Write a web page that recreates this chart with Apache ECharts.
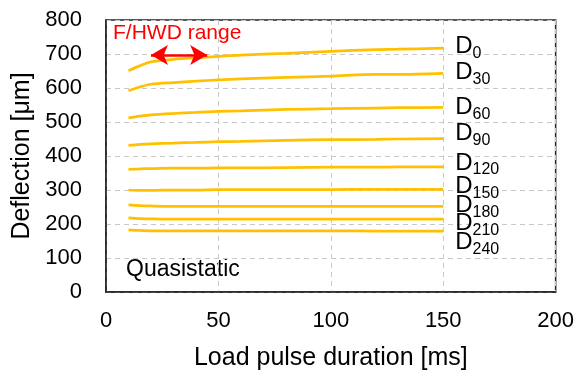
<!DOCTYPE html>
<html>
<head>
<meta charset="utf-8">
<script src="https://cdn.jsdelivr.net/npm/echarts@6/dist/echarts.min.js"></script>
<style>html,body{margin:0;padding:0;background:#fff}#c{width:577px;height:376px}</style>
</head>
<body>
<div id="c"></div>
<script>
// Load pulse durations [ms]
const durations = [10, 15, 20, 30, 40, 50, 60, 80, 100, 120, 130, 150];
// Deflections [μm] per sensor
const D0   = [651, 665, 677, 684, 689, 693, 697, 702, 708, 713, 714, 717];
const D30  = [592, 603, 611, 616, 620, 624, 627, 631, 635, 640, 640, 643];
const D60  = [512, 517, 521, 525, 528, 531, 533, 537, 539, 541, 542, 543];
const D90  = [431, 434, 436, 438, 440, 442, 443, 446, 448, 449, 450, 451];
const D120 = [361, 362, 363, 364, 364, 365, 365, 366, 367, 367, 368, 368];
const D150 = [300, 299, 299, 300, 300, 301, 301, 301, 301, 302, 302, 302];
const D180 = [256, 254, 253, 252, 252, 252, 252, 252, 252, 252, 252, 252];
const D210 = [218, 216, 215, 214, 214, 214, 214, 214, 214, 214, 214, 214];
const D240 = [183, 181, 180, 180, 180, 180, 180, 180, 180, 179, 179, 179];
const seriesNames = ['0', '30', '60', '90', '120', '150', '180', '210', '240'];
const seriesValues = [D0, D30, D60, D90, D120, D150, D180, D210, D240];
// F/HWD range arrow [ms] and level [μm]
const fhwdRange = [20, 45];
const fhwdLevel = 697;
// Axis ticks
const xTicks = [0, 50, 100, 150, 200];
const yTicks = [0, 100, 200, 300, 400, 500, 600, 700, 800];

const FONT = 'Liberation Sans, Arial, sans-serif';
const labelDy = [-2, -1, 0, -5.5, -4, -2.5, -1, 4, 11];

const series = seriesValues.map((vals, i) => ({
  type: 'line',
  name: 'D' + seriesNames[i],
  data: durations.map((d, k) => [d, vals[k]]),
  smooth: 0.3,
  showSymbol: false,
  symbol: 'none',
  lineStyle: { color: '#FFC000', width: 2.75 },
  silent: true,
  animation: false,
  endLabel: {
    show: true,
    distance: 0,
    offset: [12, labelDy[i]],
    formatter: () => '{d|D}{s|' + seriesNames[i] + '}',
    rich: {
      d: { fontSize: 24, lineHeight: 24, color: '#000', fontFamily: FONT },
      s: { fontSize: 16, lineHeight: 16, padding: [14, 0, 0, 0], color: '#000', fontFamily: FONT }
    }
  }
}));

series.push({
  type: 'line',
  data: [],
  animation: false,
  markLine: {
    silent: true,
    symbol: ['arrow', 'arrow'],
    symbolSize: [15, 17],
    label: { show: false },
    lineStyle: { color: '#FF0000', width: 2.5, type: 'solid' },
    data: [[{ coord: [fhwdRange[0], fhwdLevel] }, { coord: [fhwdRange[1], fhwdLevel] }]]
  }
});

const chart = echarts.init(document.getElementById('c'), null, { renderer: 'canvas' });
chart.setOption({
  animation: false,
  textStyle: { fontFamily: FONT },
  grid: { left: 106, top: 20, width: 450, height: 274, show: true, borderColor: '#222', borderWidth: 1.5, backgroundColor: 'transparent' },
  xAxis: {
    type: 'value', min: xTicks[0], max: xTicks[xTicks.length - 1], interval: 50,
    name: 'Load pulse duration [ms]', nameLocation: 'middle', nameGap: 54,
    nameTextStyle: { fontSize: 25, color: '#000', fontFamily: FONT },
    axisLine: { show: true, lineStyle: { color: '#222', width: 1.5 } },
    axisTick: { show: false },
    axisLabel: { fontSize: 22, color: '#000', margin: 18, fontFamily: FONT },
    splitLine: { show: true, lineStyle: { color: '#C8C8C8', type: [5, 4], width: 1 } }
  },
  yAxis: {
    type: 'value', min: yTicks[0], max: yTicks[yTicks.length - 1], interval: 100,
    name: 'Deflection [μm]', nameLocation: 'middle', nameGap: 67, nameRotate: 90,
    nameTextStyle: { fontSize: 25, color: '#000', fontFamily: FONT },
    axisLine: { show: true, lineStyle: { color: '#222', width: 1.5 } },
    axisTick: { show: false },
    axisLabel: { fontSize: 22, color: '#000', margin: 24, fontFamily: FONT },
    splitLine: { show: true, lineStyle: { color: '#C8C8C8', type: [5, 4], width: 1 } }
  },
  graphic: [
    { type: 'text', left: 113, top: 23, style: { text: 'F/HWD range', fill: '#FF0000', font: '21px ' + FONT } },
    { type: 'text', left: 126, top: 258, style: { text: 'Quasistatic', fill: '#000', font: '23px ' + FONT } }
  ],
  series: series
});
</script>
</body>
</html>
